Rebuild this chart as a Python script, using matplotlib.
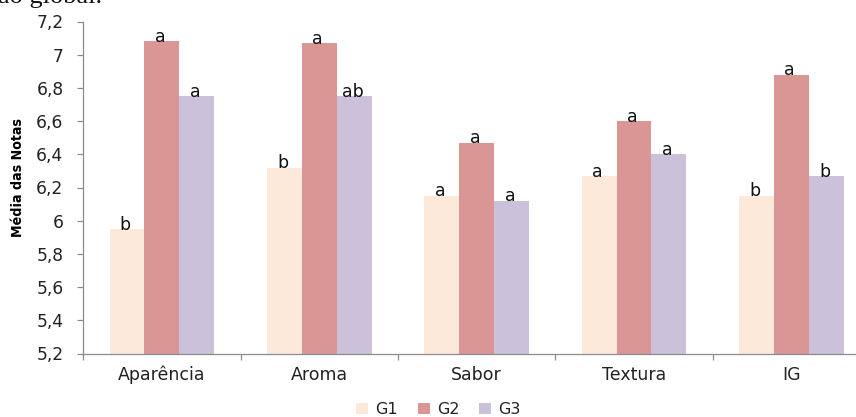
import matplotlib
matplotlib.use("Agg")
import matplotlib.pyplot as plt
from matplotlib import font_manager as fm
import numpy as np

categories = ["Aparência", "Aroma", "Sabor", "Textura", "IG"]
groups = ["G1", "G2", "G3"]
g1 = [5.95, 6.32, 6.15, 6.27, 6.15]
g2 = [7.08, 7.07, 6.47, 6.60, 6.88]
g3 = [6.75, 6.75, 6.12, 6.40, 6.27]
letters_g1 = ["b", "b", "a", "a", "b"]
letters_g2 = ["a", "a", "a", "a", "a"]
letters_g3 = ["a", "ab", "a", "a", "b"]
yticks = [5.2, 5.4, 5.6, 5.8, 6.0, 6.2, 6.4, 6.6, 6.8, 7.0, 7.2]
ytick_labels = ["5,2", "5,4", "5,6", "5,8", "6", "6,2", "6,4", "6,6", "6,8", "7", "7,2"]

colors = ["#FDE9D9", "#D99694", "#CCC1DA"]
W, H = 856, 417
fig = plt.figure(figsize=(W / 100, H / 100), dpi=100)


def narrow_bold_font():
    """Return a path to a narrow/condensed bold sans font if one is installed."""
    for f in fm.fontManager.ttflist:
        name = (f.name + " " + f.fname).lower()
        if ("narrow" in name or "condensed" in name) and "mono" not in name \
                and "serif" not in name and f.weight in (600, 700, "bold") \
                and f.style == "normal":
            return f.fname
    return None


# axes box in pixel terms (right edge runs past the figure border)
left, right, top, bottom = 83.3, 870.0, 21.5, 353.5
ax = fig.add_axes([left / W, 1 - bottom / H, (right - left) / W, (bottom - top) / H])

x = np.arange(len(categories))
bw = 1 / 4.5
series = [g1, g2, g3]
labels = [letters_g1, letters_g2, letters_g3]
base = 5.2
for i, (vals, labs) in enumerate(zip(series, labels)):
    pos = x + (i - 1) * bw
    heights = [v - base for v in vals]
    ax.bar(pos, heights, bw, bottom=base, color=colors[i], label=groups[i],
           edgecolor="none", zorder=2)
    for p, v, t in zip(pos, vals, labs):
        ax.text(p - 0.01, v - 0.004, t, ha="center", va="baseline", fontsize=12.5,
                color="#111111", family="DejaVu Sans", zorder=3)

ax.set_xlim(-0.5, len(categories) - 0.5)
ax.set_ylim(5.2, 7.2)
ax.set_yticks(yticks)
ax.set_yticklabels(ytick_labels, fontsize=12.3, color="#222222")
ax.set_xticks(x)
ax.set_xticklabels(categories, fontsize=12.5, color="#222222")
ax.tick_params(axis="x", length=0, pad=9)
ax.tick_params(axis="y", length=4.3, width=0.9, color="#8c8c8c", pad=10)

# category separator ticks on the x axis
ax.set_xticks(np.arange(-0.5, len(categories) + 0.5, 1), minor=True)
ax.tick_params(axis="x", which="minor", length=4, width=0.9, color="#8c8c8c")

for s in ["top", "right"]:
    ax.spines[s].set_visible(False)
for s in ["left", "bottom"]:
    ax.spines[s].set_color("#8c8c8c")
    ax.spines[s].set_linewidth(0.9)

narrow = narrow_bold_font()
if narrow:
    ylab_kw = dict(fontproperties=fm.FontProperties(fname=narrow, size=10.2))
else:
    ylab_kw = dict(fontsize=9, fontweight="bold", family="Liberation Sans")
fig.text(18.5 / W, 1 - 177.5 / H, "Média das Notas", rotation=90, ha="center",
         va="center", **ylab_kw)

leg = fig.legend(loc="center", bbox_to_anchor=(438.5 / W, 1 - 409.5 / H), ncol=3,
                 frameon=False, fontsize=11.5, handlelength=0.75, handleheight=0.75,
                 handletextpad=0.45, columnspacing=1.25, borderpad=0)
for t in leg.get_texts():
    t.set_color("#222222")

# tail of the caption line above the chart
fig.text(-2 / W, 1 - 3 / H, "ão global.", ha="left", va="baseline",
         fontsize=19, family="Liberation Serif", color="#111111")

fig.savefig("out.png", dpi=100)
